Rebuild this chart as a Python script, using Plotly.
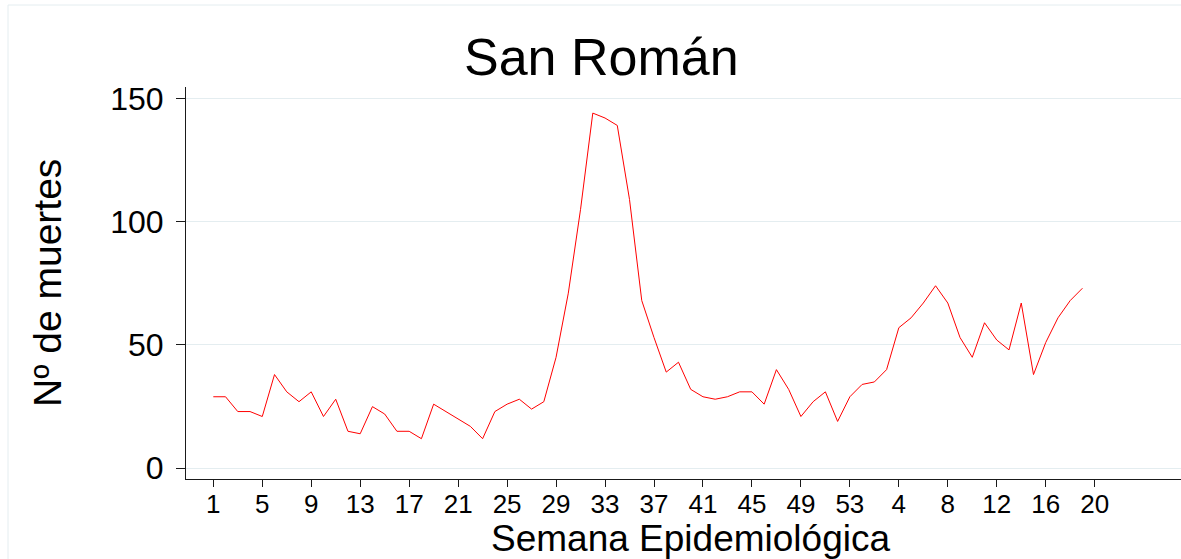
import plotly.graph_objects as go

# ---- data ----
semana = [str(w) for w in range(1, 54)] + [str(w) for w in range(1, 20)]
muertes = [29, 29, 23, 23, 21, 38, 31, 27, 31, 21,
           28, 15, 14, 25, 22, 15, 15, 12, 26, 23,
           20, 17, 12, 23, 26, 28, 24, 27, 45, 71,
           105, 144, 142, 139, 109, 68, 53, 39, 43, 32,
           29, 28, 29, 31, 31, 26, 40, 32, 21, 27,
           31, 19, 29, 34, 35, 40, 57, 61, 67, 74,
           67, 53, 45, 59, 52, 48, 67, 38, 51, 61,
           68, 73]
tick_labels = ["1", "5", "9", "13", "17", "21", "25", "29", "33", "37",
               "41", "45", "49", "53", "4", "8", "12", "16", "20"]
y_ticks = [0, 50, 100, 150]

titulo = "San Román"
x_titulo = "Semana Epidemiológica"
y_titulo = "Nº de muertes"

# ---- layout geometry ----
W, H = 1181, 559
L, R, T, B = 186, 0, 87, 80
PW, PH = W - L - R, H - T - B

def px_x(px):
    return (px - L) / PW

def px_y(py):
    return (H - B - py) / PH

x_pos = list(range(1, len(muertes) + 1))
tick_pos = [1 + 4 * i for i in range(len(tick_labels))]

FONT = "Liberation Sans, Arial, Helvetica, sans-serif"
GRID = "#e4edf0"
AXIS = "#1a1a1a"

fig = go.Figure()
fig.add_trace(go.Scatter(
    x=x_pos, y=muertes, mode="lines",
    line=dict(color="#ff0000", width=1),
    text=semana, hovertemplate="Semana %{text}: %{y}<extra></extra>",
    showlegend=False,
))

fig.update_layout(
    width=W, height=H,
    margin=dict(l=L, r=R, t=T, b=B, pad=0),
    paper_bgcolor="white", plot_bgcolor="white",
    font=dict(family=FONT, color="black"),
    xaxis=dict(
        range=[-1.23, 80.05], tickmode="array", tickvals=tick_pos, ticktext=tick_labels,
        ticks="outside", ticklen=7, tickcolor=AXIS, tickwidth=1,
        showline=True, linecolor=AXIS, linewidth=1,
        showgrid=False, zeroline=False,
        tickfont=dict(size=26, family=FONT, color="black"),
        ticklabelstandoff=-5,
    ),
    yaxis=dict(
        range=[-4.34, 154.58], tickmode="array", tickvals=y_ticks,
        ticks="outside", ticklen=9, tickcolor=AXIS, tickwidth=1,
        showline=True, linecolor=AXIS, linewidth=1,
        showgrid=True, gridcolor=GRID, gridwidth=1, zeroline=False,
        tickfont=dict(size=32, family=FONT, color="black"),
        ticklabelstandoff=6,
    ),
    shapes=[
        dict(type="line", xref="paper", yref="paper",
             x0=px_x(8), x1=px_x(W + 5), y0=px_y(5), y1=px_y(5),
             line=dict(color=GRID, width=1)),
        dict(type="line", xref="paper", yref="paper",
             x0=px_x(8), x1=px_x(8), y0=px_y(5), y1=px_y(H + 5),
             line=dict(color=GRID, width=1)),
    ],
    annotations=[
        dict(text=titulo, xref="paper", yref="paper", x=px_x(601.5), y=px_y(57),
             xanchor="center", yanchor="middle", showarrow=False,
             font=dict(size=52, family=FONT, color="black")),
        dict(text=x_titulo, xref="paper", yref="paper", x=px_x(690.5), y=px_y(538),
             xanchor="center", yanchor="middle", showarrow=False,
             font=dict(size=37, family=FONT, color="black")),
        dict(text=y_titulo, xref="paper", yref="paper", x=px_x(47), y=px_y(283),
             xanchor="center", yanchor="middle", showarrow=False, textangle=-90,
             font=dict(size=39, family=FONT, color="black")),
    ],
)

fig.write_html("out.html", config={"displayModeBar": False},
               post_script="document.body.style.margin='0';")
